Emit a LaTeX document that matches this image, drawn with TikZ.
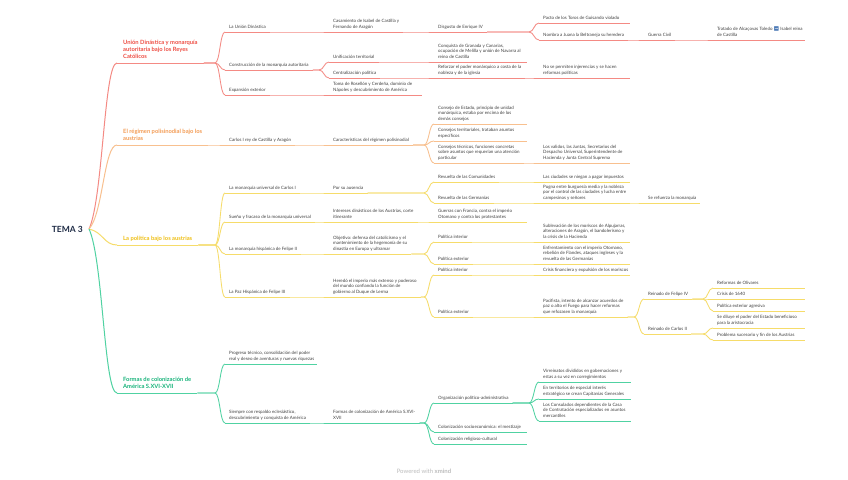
\documentclass[tikz,border=0pt]{standalone}
\usepackage{fontspec}
\setmainfont{Lato}
\newfontfamily\emojif{Noto Emoji}
\usetikzlibrary{calc}
\definecolor{redT}{HTML}{EE4E44}
\definecolor{redL}{HTML}{F48A84}
\definecolor{orT}{HTML}{F39C55}
\definecolor{orL}{HTML}{F8C08F}
\definecolor{yeT}{HTML}{EFBF14}
\definecolor{yeL}{HTML}{F6DC6A}
\definecolor{grT}{HTML}{16B37A}
\definecolor{grL}{HTML}{50D2A2}
\definecolor{tgray}{HTML}{404040}
\definecolor{rootc}{HTML}{1E2B45}
\definecolor{wmgray}{HTML}{BBBBBB}
\definecolor{emojiblue}{HTML}{4A78B5}
\tikzset{
  tn/.style={anchor=south west, inner xsep=4pt, inner ysep=2pt, align=left,
    font=\fontsize{4.45}{5.5}\selectfont, text=tgray, execute at end node=\strut},
  mt/.style={anchor=south west, inner xsep=6pt, inner ysep=2.4pt, align=left,
    font=\fontsize{5.8}{7}\selectfont\bfseries, execute at end node=\strut},
  rl/.style={draw=redL, line width=0.85pt},
  ol/.style={draw=orL, line width=0.85pt},
  yl/.style={draw=yeL, line width=0.85pt},
  gl/.style={draw=grL, line width=0.85pt},
}
\newcommand\mmul[2]{\draw[#1] (#2.south west) -- (#2.south east);}
\newcommand\mmleaf[3]{\draw[#1] (#2.south west) -- ++(#3,0);}
\newcommand\mmconn[3]{\draw[#1] (#2.south east) -- ($(#3.south west |- #2.south east)+(-10,0)$)
  .. controls ($(#3.south west |- #2.south east)+(-5,0)$) and ($(#3.south west)+(-5,0)$) .. (#3.south west);}
\newcommand\mmroot[2]{\draw[#1] (rootpt) .. controls ($(rootpt)!0.18!(#2.south west)+(9,0)$) and ($(#2.south west)+(-13,0)$) .. (#2.south west);}
\begin{document}
\begin{tikzpicture}[x=1pt,y=-1pt]
\useasboundingbox (0,0) rectangle (848,479);
\fill[white] (0,0) rectangle (848,479);

% root
\node[font=\fontsize{8.5}{10}\selectfont\bfseries, text=rootc, anchor=east, inner sep=0pt] (root) at (83,229) {TEMA 3};
\coordinate (rootpt) at ($(root.east)+(6,0)$);

% main topics
\node[mt, text=redT] (m1) at (117,63) {Unión Dinástica y monarquía\\autoritaria bajo los Reyes\\Católicos};
\node[mt, text=orT] (m2) at (117,145) {El régimen polisinodial bajo los\\austrias};
\node[mt, text=yeT] (m3) at (117,245) {La política bajo los austrias};
\node[mt, text=grT] (m4) at (117,393) {Formas de colonización de\\América S.XVI-XVII};

% red branch
\node[tn] (r1) at (225,32) {La Unión Dinástica};
\node[tn] (r11) at (329,32) {Casamiento de Isabel de Castilla y\\Fernando de Aragón};
\node[tn] (r111) at (434,32) {Disgusto de Enrique IV};
\node[tn] (r1111) at (539,23) {Pacto de los Toros de Guisando violado};
\node[tn] (r1112) at (539,40) {Nombra a Juana la Beltraneja su heredera};
\node[tn] (r11121) at (644,40) {Guerra Civil};
\node[tn] (r111211) at (713,40) {Tratado de Alcaçovas Toledo {\emojif\color{emojiblue}➡} Isabel reina\\de Castilla};
\node[tn] (r2) at (225,70) {Construcción de la monarquía autoritaria};
\node[tn] (r21) at (329,62) {Unificación territorial};
\node[tn] (r211) at (434,62) {Conquista de Granada y Canarias,\\ocupación de Melilla y unión de Navarra al\\reino de Castilla};
\node[tn] (r22) at (329,78) {Centralización política};
\node[tn] (r221) at (434,78) {Reforzar el poder monárquico a costa de la\\nobleza y de la iglesia};
\node[tn] (r2211) at (539,78) {No se permiten injerencias y se hacen\\reformas políticas};
\node[tn] (r3) at (225,95) {Expansión exterior};
\node[tn] (r31) at (329,95) {Toma de Rosellón y Cerdeña, dominio de\\Nápoles y descubrimiento de América};

% orange branch
\node[tn] (o1) at (225,145) {Carlos I rey de Castilla y Aragón};
\node[tn] (o11) at (329,145) {Características del régimen polisinodial};
\node[tn] (o111) at (434,124) {Consejo de Estado, principio de unidad\\monárquica, estaba por encima de los\\demás consejos};
\node[tn] (o112) at (434,141) {Consejos territoriales, trataban asuntos\\específicos};
\node[tn] (o113) at (434,163) {Consejos técnicos, funciones concretas\\sobre asuntos que requerían una atención\\particular};
\node[tn] (o1131) at (539,163) {Los validos, las Juntas, Secretarios del\\Despacho Universal, Superintendente de\\Hacienda y Junta Central Suprema};

% yellow branch
\node[tn] (y1) at (225,193) {La monarquía universal de Carlos I};
\node[tn] (y11) at (329,193) {Por su ausencia};
\node[tn] (y111) at (434,182) {Revuelta de las Comunidades};
\node[tn] (y1111) at (539,182) {Las ciudades se niegan a pagar impuestos};
\node[tn] (y112) at (434,203) {Revuelta de las Germanías};
\node[tn] (y1121) at (539,203) {Pugna entre burguesía media y la nobleza\\por el control de las ciudades y lucha entre\\campesinos y señores};
\node[tn] (y11211) at (644,203) {Se refuerza la monarquía};
\node[tn] (y2) at (225,222) {Sueño y fracaso de la monarquía universal};
\node[tn] (y21) at (329,222) {Intereses dinásticos de los Austrias, corte\\itinerante};
\node[tn] (y211) at (434,222) {Guerras con Francia, contra el imperio\\Otomano y contra los protestantes};
\node[tn] (y3) at (225,254) {La monarquía hispánica de Felipe II};
\node[tn] (y31) at (329,254) {Objetivo: defensa del catolicismo y el\\mantenimiento de la hegemonía de su\\dinastía en Europa y ultramar};
\node[tn] (y311) at (434,242) {Política interior};
\node[tn] (y3111) at (539,242) {Sublevación de los moriscos de Alpujarras,\\alteraciones de Aragón, el bandolerismo y\\la crisis de la Hacienda};
\node[tn] (y312) at (434,264) {Política exterior};
\node[tn] (y3121) at (539,264) {Enfrentamiento con el imperio Otomano,\\rebelión de Flandes, ataques ingleses y la\\revuelta de las Germanías};
\node[tn] (y4) at (225,297) {La Paz Hispánica de Felipe III};
\node[tn] (y41) at (329,297) {Heredó el imperio más extenso y poderoso\\del mundo confiando la función de\\gobierno al Duque de Lerma};
\node[tn] (y411) at (434,275) {Política interior};
\node[tn] (y4111) at (539,275) {Crisis financiera y expulsión de los moriscos};
\node[tn] (y412) at (434,317) {Política exterior};
\node[tn] (y4121) at (539,317) {Pacifista, intento de alcanzar acuerdos de\\paz o alto el Fuego para hacer reformas\\que refozasen la monarquía};
\node[tn] (y41211) at (644,299) {Reinado de Felipe IV};
\node[tn] (y412111) at (713,288) {Reformas de Olivares};
\node[tn] (y412112) at (713,299) {Crisis de 1640};
\node[tn] (y412113) at (713,311) {Política exterior agresiva};
\node[tn] (y41212) at (644,334) {Reinado de Carlos II};
\node[tn] (y412121) at (713,328) {Se diluye el poder del Estado beneficioso\\para la aristocracia};
\node[tn] (y412122) at (713,340) {Problema sucesorio y fin de los Austrias};

% green branch
\node[tn] (g1) at (225,364) {Progreso técnico, consolidación del poder\\real y deseo de aventuras y nuevas riquezas};
\node[tn] (g2) at (225,423) {Siempre con respaldo eclesiástico,\\descubrimiento y conquista de América};
\node[tn] (g21) at (329,423) {Formas de colonización de América S.XVI-\\XVII};
\node[tn] (g211) at (434,403) {Organización político-administrativa};
\node[tn] (g2111) at (539,382) {Virreinatos divididos en gobernaciones y\\estas a su vez en corregimientos};
\node[tn] (g2112) at (539,399) {En territorios de especial interés\\estratégico se crean Capitanías Generales};
\node[tn] (g2113) at (539,421) {Los Consulados dependientes de la Casa\\de Contratación especializados en asuntos\\mercantiles};
\node[tn] (g212) at (434,432) {Colonización socioeconómica: el mestizaje};
\node[tn] (g213) at (434,444) {Colonización religioso-cultural};

% watermark
\node[font=\fontsize{6}{7}\selectfont, text=wmgray] (wm) at (424,471) {Powered with \textbf{xmind}};

% ---- connectors: root
\mmroot{redL, line width=1pt}{m1}
\mmroot{orL, line width=1pt}{m2}
\mmroot{yeL, line width=1pt}{m3}
\mmroot{grL, line width=1pt}{m4}

% red
\mmul{rl}{m1}
\mmconn{rl}{m1}{r1} \mmconn{rl}{m1}{r2} \mmconn{rl}{m1}{r3}
\mmul{rl}{r1} \mmconn{rl}{r1}{r11}
\mmul{rl}{r11} \mmconn{rl}{r11}{r111}
\mmul{rl}{r111} \mmconn{rl}{r111}{r1111} \mmconn{rl}{r111}{r1112}
\mmleaf{rl}{r1111}{91}
\mmul{rl}{r1112} \mmconn{rl}{r1112}{r11121}
\mmul{rl}{r11121} \mmconn{rl}{r11121}{r111211}
\mmleaf{rl}{r111211}{92}
\mmul{rl}{r2} \mmconn{rl}{r2}{r21} \mmconn{rl}{r2}{r22}
\mmul{rl}{r21} \mmconn{rl}{r21}{r211}
\mmleaf{rl}{r211}{93}
\mmul{rl}{r22} \mmconn{rl}{r22}{r221}
\mmul{rl}{r221} \mmconn{rl}{r221}{r2211}
\mmleaf{rl}{r2211}{91}
\mmul{rl}{r3} \mmconn{rl}{r3}{r31}
\mmleaf{rl}{r31}{93}

% orange
\mmul{ol}{m2} \mmconn{ol}{m2}{o1}
\mmul{ol}{o1} \mmconn{ol}{o1}{o11}
\mmul{ol}{o11} \mmconn{ol}{o11}{o111} \mmconn{ol}{o11}{o112} \mmconn{ol}{o11}{o113}
\mmleaf{ol}{o111}{93}
\mmleaf{ol}{o112}{93}
\mmul{ol}{o113} \mmconn{ol}{o113}{o1131}
\mmleaf{ol}{o1131}{91}

% yellow
\mmul{yl}{m3}
\mmconn{yl}{m3}{y1} \mmconn{yl}{m3}{y2} \mmconn{yl}{m3}{y3} \mmconn{yl}{m3}{y4}
\mmul{yl}{y1} \mmconn{yl}{y1}{y11}
\mmul{yl}{y11} \mmconn{yl}{y11}{y111} \mmconn{yl}{y11}{y112}
\mmul{yl}{y111} \mmconn{yl}{y111}{y1111}
\mmleaf{yl}{y1111}{91}
\mmul{yl}{y112} \mmconn{yl}{y112}{y1121}
\mmul{yl}{y1121} \mmconn{yl}{y1121}{y11211}
\mmleaf{yl}{y11211}{56}
\mmul{yl}{y2} \mmconn{yl}{y2}{y21}
\mmul{yl}{y21} \mmconn{yl}{y21}{y211}
\mmleaf{yl}{y211}{93}
\mmul{yl}{y3} \mmconn{yl}{y3}{y31}
\mmul{yl}{y31} \mmconn{yl}{y31}{y311} \mmconn{yl}{y31}{y312}
\mmul{yl}{y311} \mmconn{yl}{y311}{y3111}
\mmleaf{yl}{y3111}{91}
\mmul{yl}{y312} \mmconn{yl}{y312}{y3121}
\mmleaf{yl}{y3121}{91}
\mmul{yl}{y4} \mmconn{yl}{y4}{y41}
\mmul{yl}{y41} \mmconn{yl}{y41}{y411} \mmconn{yl}{y41}{y412}
\mmul{yl}{y411} \mmconn{yl}{y411}{y4111}
\mmleaf{yl}{y4111}{91}
\mmul{yl}{y412} \mmconn{yl}{y412}{y4121}
\mmul{yl}{y4121} \mmconn{yl}{y4121}{y41211} \mmconn{yl}{y4121}{y41212}
\mmul{yl}{y41211} \mmconn{yl}{y41211}{y412111} \mmconn{yl}{y41211}{y412112} \mmconn{yl}{y41211}{y412113}
\mmleaf{yl}{y412111}{92} \mmleaf{yl}{y412112}{92} \mmleaf{yl}{y412113}{92}
\mmul{yl}{y41212} \mmconn{yl}{y41212}{y412121} \mmconn{yl}{y41212}{y412122}
\mmleaf{yl}{y412121}{92} \mmleaf{yl}{y412122}{92}

% green
\mmul{gl}{m4} \mmconn{gl}{m4}{g1} \mmconn{gl}{m4}{g2}
\mmleaf{gl}{g1}{92}
\mmul{gl}{g2} \mmconn{gl}{g2}{g21}
\mmul{gl}{g21} \mmconn{gl}{g21}{g211} \mmconn{gl}{g21}{g212} \mmconn{gl}{g21}{g213}
\mmul{gl}{g211} \mmconn{gl}{g211}{g2111} \mmconn{gl}{g211}{g2112} \mmconn{gl}{g211}{g2113}
\mmleaf{gl}{g2111}{92} \mmleaf{gl}{g2112}{92} \mmleaf{gl}{g2113}{92}
\mmleaf{gl}{g212}{93} \mmleaf{gl}{g213}{93}
\end{tikzpicture}
\end{document}
